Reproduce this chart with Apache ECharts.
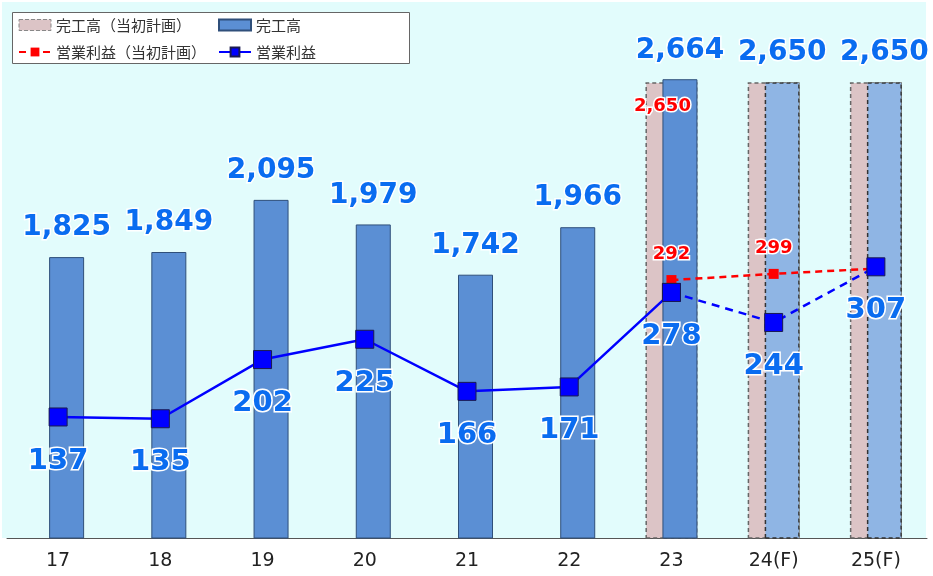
<!DOCTYPE html>
<html>
<head>
<meta charset="utf-8">
<script src="https://cdn.jsdelivr.net/npm/echarts@6/dist/echarts.min.js"></script>
<style>
html,body{margin:0;padding:0;background:#fff}
#chart{width:933px;height:576px}
</style>
</head>
<body>
<div id="chart"></div>
<script>
// 年度
const years = ['17','18','19','20','21','22','23','24(F)','25(F)'];
// 完工高
const salesActual = [1825,1849,2095,1979,1742,1966,2664,2650,2650];
const salesPlan = ['-','-','-','-','-','-',2650,2650,2650];
// 営業利益
const profitActual = [137,135,202,225,166,171,278,'-','-'];
const profitForecast = ['-','-','-','-','-','-',278,244,307];
const profitPlan = ['-','-','-','-','-','-',292,299,305];
const forecastFrom = 7;

var blueText = '#0a6cf0';
var numFont = 'DejaVu Sans';

var myChart = echarts.init(document.getElementById('chart'));

var planBarData = salesPlan.map(function(v,i){
    if(i===6){
        return {value:v,label:{show:true}};
    }
    return v;
});
var actualBarData = salesActual.map(function(v,i){
    if(i>=forecastFrom){
        return {value:v,itemStyle:{color:'#8fb5e4',borderColor:'#333',borderType:[4,3],borderWidth:1.5}};
    }
    return v;
});
var planLineData = profitPlan.map(function(v,i){
    if(i===8){
        return {value:v,label:{show:false}};
    }
    return v;
});
var forecastLineData = profitForecast.map(function(v,i){
    if(i===6){
        return {value:v,label:{show:false}};
    }
    return v;
});

var legendText = {fontFamily:'Noto Sans CJK JP',fontSize:15,color:'#333',lineHeight:16};

var option = {
    animation:false,
    graphic:[
        {
            type:'rect', z:-10,
            shape:{x:2,y:2,width:924,height:536},
            style:{fill:'#e2fcfc'}
        },
        {
            type:'rect', z:50,
            shape:{x:12.5,y:12.5,width:397,height:51},
            style:{fill:'#fff',stroke:'#666',lineWidth:1}
        }
    ],
    legend:[
        {
            orient:'vertical', left:18, top:17, padding:0, z:60,
            itemWidth:32, itemHeight:11, itemGap:11,
            data:[
                {name:'完工高（当初計画）',icon:'rect',itemStyle:{borderType:[4,2],borderColor:'#888',borderWidth:1}},
                '営業利益（当初計画）'
            ],
            textStyle:legendText
        },
        {
            orient:'vertical', left:218, top:17, padding:0, z:60,
            itemWidth:32, itemHeight:11, itemGap:11,
            data:[
                {name:'完工高',icon:'rect'},
                '営業利益'
            ],
            textStyle:legendText
        }
    ],
    grid:{left:7,right:6,top:8,bottom:38},
    xAxis:{
        type:'category',
        data:years,
        axisLine:{lineStyle:{color:'#555',width:1}},
        axisTick:{length:7,lineStyle:{color:'#555'}},
        axisLabel:{fontFamily:numFont,fontSize:19,color:'#222',margin:14}
    },
    yAxis:[
        {type:'value',min:500,max:3000,show:false},
        {type:'value',min:0,max:600,show:false}
    ],
    series:[
        {
            name:'完工高（当初計画）',
            type:'bar',
            barWidth:52,
            barGap:'-67.3%',
            data:planBarData,
            itemStyle:{color:'#dcc4c6',borderColor:'#666',borderType:[4,3],borderWidth:1.5},
            label:{
                show:false,
                position:'insideTop',
                distance:15,
                offset:[-9,0],
                color:'#ff0000',
                fontFamily:numFont,
                fontWeight:'bold',
                fontSize:18,
                textBorderColor:'#fff',
                textBorderWidth:3,
                formatter:function(p){return p.value.toLocaleString('en-US');}
            }
        },
        {
            name:'完工高',
            type:'bar',
            barWidth:35,
            data:actualBarData,
            itemStyle:{color:'#5b8fd4',borderColor:'#2f4f7a',borderWidth:1},
            label:{
                show:true,
                position:'top',
                distance:15,
                color:blueText,
                fontFamily:numFont,
                fontWeight:'bold',
                fontSize:28,
                textBorderColor:'#fff',
                textBorderWidth:3,
                formatter:function(p){return p.value.toLocaleString('en-US');}
            }
        },
        {
            name:'営業利益（当初計画）',
            type:'line',
            yAxisIndex:1,
            z:3,
            data:planLineData,
            symbol:'rect',
            symbolSize:10,
            lineStyle:{color:'#ff0000',width:2.5,type:[7,5]},
            itemStyle:{color:'#ff0000'},
            label:{
                show:true,
                position:'top',
                distance:12,
                color:'#ff0000',
                fontFamily:numFont,
                fontWeight:'bold',
                fontSize:18,
                textBorderColor:'#fff',
                textBorderWidth:3
            }
        },
        {
            name:'営業利益',
            type:'line',
            yAxisIndex:1,
            z:4,
            data:profitActual,
            symbol:'rect',
            symbolSize:18,
            lineStyle:{color:'#0000ff',width:2.5},
            itemStyle:{color:'#0000ff',borderColor:'#1a1a50',borderWidth:1},
            label:{
                show:true,
                position:'bottom',
                distance:20,
                color:blueText,
                fontFamily:numFont,
                fontWeight:'bold',
                fontSize:29,
                textBorderColor:'#fff',
                textBorderWidth:3
            }
        },
        {
            name:'営業利益',
            type:'line',
            yAxisIndex:1,
            z:4,
            data:forecastLineData,
            symbol:'rect',
            symbolSize:18,
            lineStyle:{color:'#0000ff',width:2.5,type:[8,6]},
            itemStyle:{color:'#0000ff',borderColor:'#1a1a50',borderWidth:1},
            label:{
                show:true,
                position:'bottom',
                distance:20,
                color:blueText,
                fontFamily:numFont,
                fontWeight:'bold',
                fontSize:29,
                textBorderColor:'#fff',
                textBorderWidth:3
            }
        }
    ]
};
myChart.setOption(option);
</script>
</body>
</html>
